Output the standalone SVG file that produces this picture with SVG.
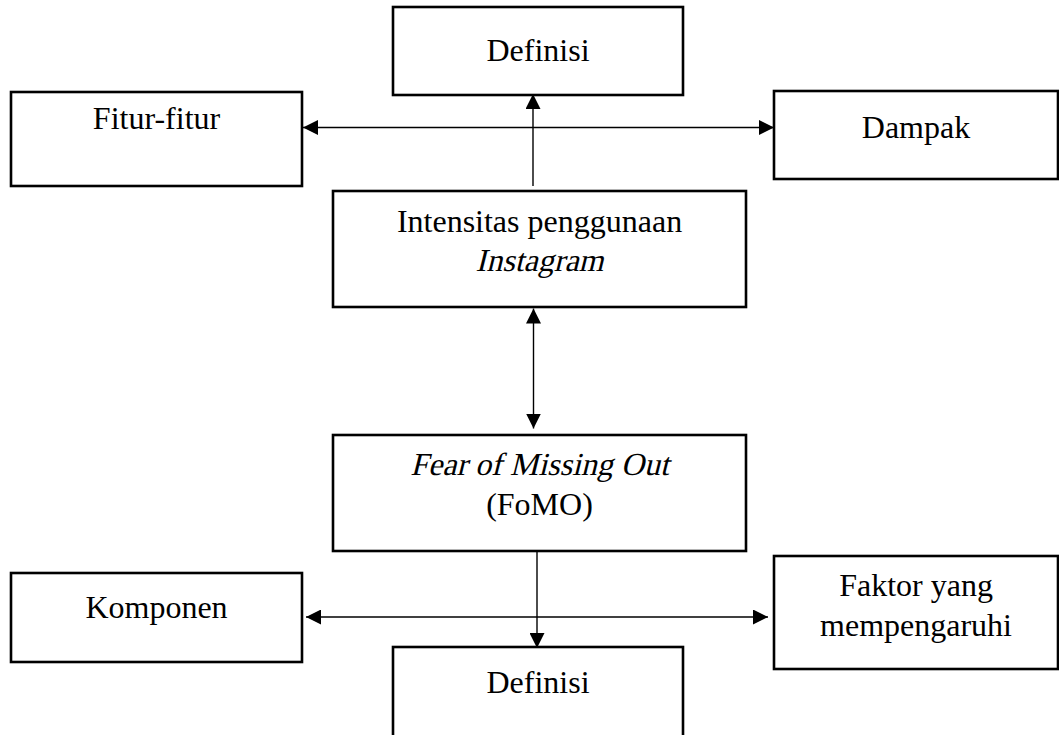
<svg xmlns="http://www.w3.org/2000/svg" width="1059" height="735" viewBox="0 0 1059 735">
<style>
.box{fill:#fff;stroke:#000;stroke-width:2.6}
.t{font-family:"Liberation Serif",serif;font-size:32px;fill:#000;text-anchor:middle}
.c{stroke:#000;stroke-width:1.4;fill:none}
</style>
<defs>
<marker id="ah" viewBox="0 0 15 15" refX="15" refY="7.5" markerWidth="15" markerHeight="15" markerUnits="userSpaceOnUse" orient="auto-start-reverse">
<path d="M0,0 L15,7.5 L0,15 z" fill="#000"/>
</marker>
</defs>
<rect width="1059" height="735" fill="#fff"/>
<g id="connectors">
<line class="c" x1="303" y1="127.5" x2="774" y2="127.5" marker-start="url(#ah)" marker-end="url(#ah)"/>
<line class="c" x1="533" y1="186" x2="533" y2="94" marker-end="url(#ah)"/>
<line class="c" x1="533.5" y1="308.5" x2="533.5" y2="428.5" marker-start="url(#ah)" marker-end="url(#ah)"/>
<line class="c" x1="537" y1="551" x2="537" y2="648" marker-end="url(#ah)"/>
<line class="c" x1="306" y1="617" x2="768" y2="617" marker-start="url(#ah)" marker-end="url(#ah)"/>
</g>
<g id="definisi-top">
<rect class="box" x="393" y="7" width="290" height="88"/>
<text class="t" x="538" y="61">Definisi</text>
</g>
<g id="fitur">
<rect class="box" x="11" y="92" width="291" height="94"/>
<text class="t" x="156.5" y="129">Fitur-fitur</text>
</g>
<g id="dampak">
<rect class="box" x="774" y="91" width="284" height="88"/>
<text class="t" x="916" y="138">Dampak</text>
</g>
<g id="intensitas">
<rect class="box" x="333" y="191" width="413" height="116"/>
<text class="t" x="539.5" y="232">Intensitas penggunaan</text>
<text class="t" transform="translate(539.5,271) skewX(-14)" x="0" y="0">Instagram</text>
</g>
<g id="fomo">
<rect class="box" x="333" y="435" width="413" height="116"/>
<text class="t" transform="translate(539.5,475) skewX(-14)" x="0" y="0">Fear of Missing Out</text>
<text class="t" x="539.5" y="515">(FoMO)</text>
</g>
<g id="komponen">
<rect class="box" x="11" y="573" width="291" height="89"/>
<text class="t" x="156.5" y="618">Komponen</text>
</g>
<g id="faktor">
<rect class="box" x="774" y="556" width="284" height="113"/>
<text class="t" x="916" y="596">Faktor yang</text>
<text class="t" x="916" y="636">mempengaruhi</text>
</g>
<g id="definisi-bottom">
<rect class="box" x="393" y="647" width="290" height="100"/>
<text class="t" x="538" y="693">Definisi</text>
</g>
</svg>
